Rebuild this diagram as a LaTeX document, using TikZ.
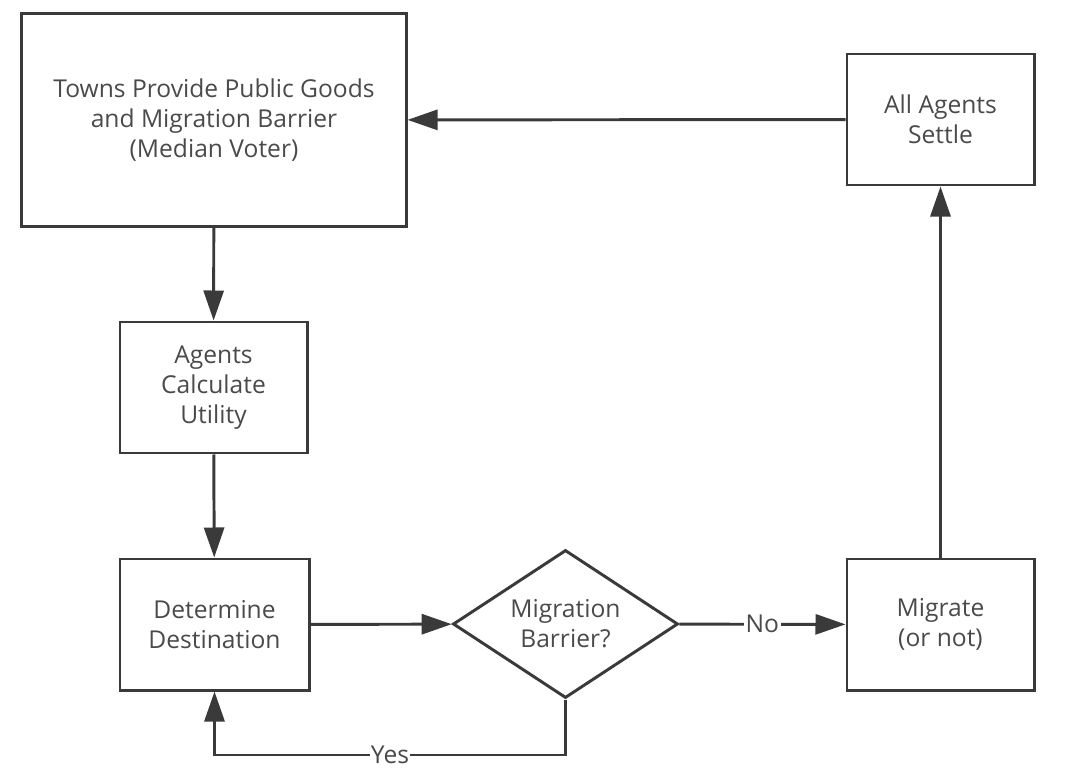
\documentclass[tikz,border=0pt]{standalone}
\usepackage{fontspec}
\setmainfont{Open Sans}
\usepackage{xcolor}
\usetikzlibrary{arrows.meta,shapes.geometric}
\definecolor{linegray}{HTML}{3A3A3A}
\definecolor{textgray}{HTML}{4A4A4A}

\begin{document}
\begin{tikzpicture}[x=0.025cm, y=-0.025cm]
                \useasboundingbox (0,0) rectangle (1074,784);
                \begin{scope}[every node/.style = {rectangle, draw=linegray, line width=2.1pt,
                                 align=center, text=textgray, font=\fontsize{17.5}{21.3}\selectfont,
                                 minimum width=4.675cm, minimum height=3.275cm}]
                    \node (towns)   at (214, 120)   [minimum width=9.6cm, minimum height=5.3cm]
                                    {Towns Provide Public Goods\\and Migration Barrier\\(Median Voter)};
                    \node (settle)  at (940.5, 119.5) {All Agents\\Settle};
                    \node (utility) at (213.5, 387.5) {Agents\\Calculate\\Utility};
                    \node (dest)    at (214.5, 624.5) [minimum width=4.725cm] {Determine\\Destination};
                    \node (barrier) at (565.5, 624)   [diamond, aspect=1.52, minimum width=5.625cm,
                                                       minimum height=3.7cm, inner sep=0pt]
                                    {Migration\\Barrier?};
                    \node (migrate) at (940.5, 624.5) {Migrate\\(or not)};
                \end{scope}
                \coordinate (yesturn) at (565.5, 755);

                \begin{scope}[>={Triangle[length=0.75cm, width=0.5cm]},
                                every node/.style={fill=white, inner sep=1pt, text=textgray,
                                                   font=\fontsize{17.5}{21.3}\selectfont},
                                every edge/.style={draw=linegray, line width=2.1pt}]
                     \path [->] (towns) edge (utility);
                     \path [->] (utility) edge (dest);
                     \path [->] (dest) edge (barrier);
                     \path [->] (barrier) edge node {No} (migrate);
                     \path [->] (migrate) edge (settle);
                     \path [->] (settle) edge (towns);
                     \draw [->, draw=linegray, line width=2.1pt]
                           (barrier.south) -- (yesturn) -- node {Yes} (yesturn -| dest) -- (dest.south);
                \end{scope}
            \end{tikzpicture}
\end{document}
